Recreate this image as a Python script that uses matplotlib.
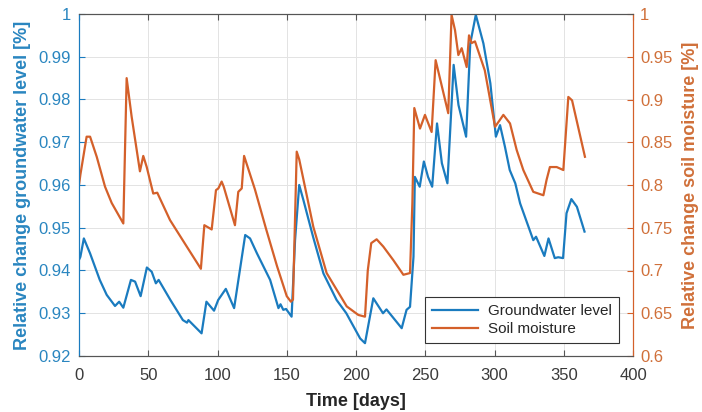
import matplotlib
matplotlib.use("Agg")
import matplotlib.pyplot as plt

plt.rcParams['font.family'] = ['Liberation Sans', 'DejaVu Sans']

# ---- data ----
gw_days = [0, 1, 3.5, 8, 15, 20, 26, 29, 32, 37.5, 40.5, 44.5, 49, 52.5, 55.5, 57.5, 66, 75, 78, 79,
           88.5, 92, 97.5, 100.5, 106, 112, 120, 123.5, 128.5, 138, 144, 145.5, 147.5, 149.5, 153.5,
           156, 159, 162, 169, 176.5, 186, 193, 203, 206.5, 212.5, 219.5, 222, 233, 236.5, 239,
           241.5, 242.5, 246, 249, 252, 255, 258.5, 262, 266, 270.5, 274, 279.5, 282.5, 286.5, 292,
           297, 301, 304, 307.5, 311, 315, 318.5, 328, 330, 336, 339, 343.5, 346, 349.5, 352, 355.5,
           359.5, 365]
gw_vals = [0.9425, 0.9432, 0.9475, 0.9440, 0.9378, 0.9343, 0.9317, 0.9327, 0.9313, 0.9378, 0.9374,
           0.9340, 0.9407, 0.9397, 0.9370, 0.9378, 0.9331, 0.9284, 0.9278, 0.9284, 0.9253, 0.9327,
           0.9306, 0.9331, 0.9357, 0.9312, 0.9483, 0.9475, 0.9440, 0.9378, 0.9312, 0.9321, 0.9308,
           0.9310, 0.9292, 0.9471, 0.9600, 0.9565, 0.9479, 0.9393, 0.9331, 0.9300, 0.9241, 0.9230,
           0.9335, 0.9300, 0.9309, 0.9265, 0.9308, 0.9315, 0.9432, 0.9619, 0.9596, 0.9655, 0.9619,
           0.9596, 0.9744, 0.9651, 0.9604, 0.9881, 0.9787, 0.9713, 0.9931, 0.9998, 0.9931, 0.9838,
           0.9713, 0.9740, 0.9690, 0.9635, 0.9604, 0.9557, 0.9471, 0.9479, 0.9434, 0.9475, 0.9429,
           0.9431, 0.9429, 0.9534, 0.9567, 0.9549, 0.9491]

sm_days = [0, 1, 5.5, 8, 12.8, 18.8, 23.6, 32, 34.4, 38, 44, 46.4, 48.9, 53.6, 56.5, 65.7, 77.8, 88,
           90.5, 95.8, 98.9, 100.6, 103, 104.5, 112.6, 115, 117.5, 119.2, 127, 135, 143, 150, 153,
           154.5, 157.2, 159, 169.2, 178.8, 193.3, 201.7, 206.5, 208.5, 211, 214.9, 219.7, 227,
           234.2, 239, 240.7, 242.1, 246.2, 249.8, 254.6, 257.5, 266.6, 269, 271.5, 273.9, 276.3,
           279.9, 281.6, 283.5, 285.9, 293, 300.4, 306.4, 311.2, 316, 320.8, 328, 335.3, 337.6, 340,
           344.9, 349.7, 353.3, 356, 365.3]
sm_vals = [0.800, 0.812, 0.8565, 0.8565, 0.833, 0.798, 0.779, 0.755, 0.925, 0.880, 0.816, 0.834,
           0.821, 0.790, 0.791, 0.759, 0.728, 0.702, 0.753, 0.748, 0.794, 0.796, 0.804, 0.798, 0.753,
           0.792, 0.796, 0.834, 0.795, 0.749, 0.705, 0.670, 0.6635, 0.666, 0.839, 0.830, 0.751,
           0.697, 0.658, 0.648, 0.646, 0.700, 0.732, 0.7365, 0.728, 0.712, 0.695, 0.697, 0.779,
           0.890, 0.866, 0.882, 0.862, 0.946, 0.884, 0.999, 0.981, 0.952, 0.960, 0.938, 0.975, 0.966,
           0.968, 0.934, 0.868, 0.882, 0.872, 0.841, 0.8175, 0.792, 0.788, 0.806, 0.821, 0.821,
           0.8175, 0.903, 0.899, 0.833]

x_ticks = [0, 50, 100, 150, 200, 250, 300, 350, 400]
left_ticks = [0.92, 0.93, 0.94, 0.95, 0.96, 0.97, 0.98, 0.99, 1.0]
left_labels = ['0.92', '0.93', '0.94', '0.95', '0.96', '0.97', '0.98', '0.99', '1']
right_ticks = [0.6, 0.65, 0.7, 0.75, 0.8, 0.85, 0.9, 0.95, 1.0]
right_labels = ['0.6', '0.65', '0.7', '0.75', '0.8', '0.85', '0.9', '0.95', '1']

BLUE = '#1a7bbf'
ORANGE = '#d4602a'
BLUE_TXT = '#2a86c0'
ORANGE_TXT = '#d0703a'
GRAYTXT = '#3a3a3a'

TICK_FS = 12
LABEL_FS = 13

fig = plt.figure(figsize=(7.02, 4.12), dpi=100)
ax1 = fig.add_axes([79/702, 1-356/412, (633-79)/702, (356-14)/412])
ax2 = ax1.twinx()

l1, = ax1.plot(gw_days, gw_vals, color=BLUE, lw=1.6, label='Groundwater level')
l2, = ax2.plot(sm_days, sm_vals, color=ORANGE, lw=1.6, label='Soil moisture')

ax1.set_xlim(0, 400)
ax1.set_ylim(0.92, 1.0)
ax2.set_ylim(0.6, 1.0)

ax1.set_xticks(x_ticks)
ax1.set_xticklabels([str(t) for t in x_ticks], fontsize=TICK_FS, color=GRAYTXT)
ax1.set_yticks(left_ticks)
ax1.set_yticklabels(left_labels, fontsize=TICK_FS, color=BLUE_TXT)
ax2.set_yticks(right_ticks)
ax2.set_yticklabels(right_labels, fontsize=TICK_FS, color=ORANGE_TXT)

ax1.grid(True, color='#e3e3e3', lw=0.7)
ax1.set_axisbelow(True)

ax1.tick_params(axis='x', direction='in', length=4, top=True, color='#555555', pad=9)
ax1.tick_params(axis='y', direction='in', length=4, color=BLUE, pad=6)
ax2.tick_params(axis='y', direction='in', length=4, color=ORANGE, pad=5)

for ax in (ax1, ax2):
    ax.spines['top'].set_color('#555555')
    ax.spines['bottom'].set_color('#555555')
    ax.spines['left'].set_color(BLUE)
    ax.spines['right'].set_color(ORANGE)
    for s in ax.spines.values():
        s.set_linewidth(0.8)

ax1.set_xlabel('Time [days]', fontsize=LABEL_FS, fontweight='bold', color='#262626', labelpad=7)
ax1.set_ylabel('Relative change groundwater level [%]', fontsize=LABEL_FS, fontweight='bold',
               color=BLUE_TXT, labelpad=5)
ax2.set_ylabel('Relative change soil moisture [%]', fontsize=LABEL_FS, fontweight='bold',
               color=ORANGE_TXT, labelpad=7)

leg = ax2.legend(handles=[l1, l2], loc='lower right', bbox_to_anchor=(0.975, 0.038),
                 borderaxespad=0, fontsize=11, fancybox=False, framealpha=1,
                 edgecolor='#333333', handlelength=3.0, handletextpad=0.7,
                 borderpad=0.45, labelspacing=0.25)
leg.get_frame().set_linewidth(0.8)
for t in leg.get_texts():
    t.set_color('#262626')

fig.savefig('out.png', dpi=100)
